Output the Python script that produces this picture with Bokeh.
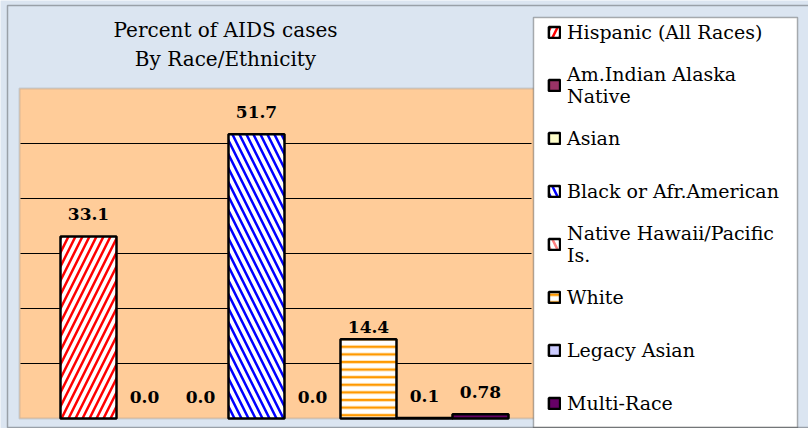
from bokeh.plotting import figure
from bokeh.models import Range1d, Legend, LegendItem, Label, Grid, BoxAnnotation
from bokeh.embed import file_html
from bokeh.resources import INLINE
from bokeh.core.properties import value

# ---- data ----
categories = ["Hispanic (All Races)", "Am.Indian Alaska\nNative", "Asian",
              "Black or Afr.American", "Native Hawaii/Pacific\nIs.", "White",
              "Legacy Asian", "Multi-Race"]
percent = [33.1, 0.0, 0.0, 51.7, 0.0, 14.4, 0.1, 0.78]
value_labels = ["33.1", "0.0", "0.0", "51.7", "0.0", "14.4", "0.1", "0.78"]
grid_ticks = [10, 20, 30, 40, 50]
y_max = 60

# ---- styles ----
fills = ["white", "#993366", "#FFFFCC", "white", "white", "white", "#CCCCFF", "#660066"]
hatches = ["/", " ", " ", "\\", "\\", "-", " ", " "]
hatch_colors = ["#FF0000", "black", "black", "#0000FF", "#FF8080", "#FF9900", "black", "black"]
hatch_scales = [14, 8, 8, 14, 14, 7.6, 8, 8]
label_lift = [22, 22, 22, 22, 22, 12, 22, 22]   # px between bar top and its label
SERIF = "DejaVu Serif"

# ---- layout (pixels) ----
W, H = 808, 428
SLOT, X0 = 56, 88      # px per category, px of first category centre
BASE, PPU = 418, 5.5   # px of value 0, px per percent


def dx(px):
    return (px - X0) / SLOT


def dy(py):
    return (BASE - py) / PPU


p = figure(width=W, height=H, output_backend="svg", toolbar_location=None,
           x_range=Range1d(dx(0), dx(W)), y_range=Range1d(dy(H), dy(0)),
           x_axis_location=None, y_axis_location=None,
           min_border=0, border_fill_color="#dbe5f1", background_fill_color="#dbe5f1",
           outline_line_color=None)
p.center = [c for c in p.center if not isinstance(c, Grid)]

# plot area
p.add_layout(BoxAnnotation(left=dx(19), right=dx(540), bottom=0, top=y_max,
                           fill_color="#FFCC99", fill_alpha=1.0,
                           line_color="#8c8c8c", line_width=2, level="underlay"))
# gridlines
p.segment(x0=dx(20), x1=dx(531), y0=grid_ticks, y1=grid_ticks,
          line_color="black", line_width=1)

items = []
for i, (cat, v) in enumerate(zip(categories, percent)):
    r = p.vbar(x=[i], top=[v], width=1.0, bottom=0,
               fill_color=fills[i], hatch_pattern=hatches[i], hatch_color=hatch_colors[i],
               hatch_scale=hatch_scales[i], hatch_weight=2.5,
               line_color="black", line_width=2.5)
    r.visible = v > 0
    items.append(LegendItem(label=cat, renderers=[r]))

p.text(x=list(range(len(percent))), y=percent, text=value_labels,
       text_align="center", text_baseline="alphabetic",
       y_offset=[-d for d in label_lift],
       text_font=value(SERIF), text_font_style="bold", text_font_size="17px",
       text_color="black")

# title
p.add_layout(Label(x=dx(225), y=dy(29), text="Percent of AIDS cases",
                   text_align="center", text_baseline="alphabetic",
                   text_font=SERIF, text_font_size="20px", text_color="black"))
p.add_layout(Label(x=dx(225), y=dy(58), text="By Race/Ethnicity",
                   text_align="center", text_baseline="alphabetic",
                   text_font=SERIF, text_font_size="20px", text_color="black"))

# legend box
p.add_layout(BoxAnnotation(left=dx(533), right=dx(797), top=dy(17), bottom=dy(427),
                           fill_color="white", fill_alpha=1.0,
                           line_color="black", line_width=1.5))

item_h = 53
legend_h = len(items) * item_h
legend = Legend(items=items, location=(547, H - 5.5 - legend_h),
                padding=0, spacing=0, margin=0,
                glyph_width=14, glyph_height=14, label_standoff=6,
                label_height=item_h,
                label_text_font=SERIF, label_text_font_size="19px",
                label_text_line_height=1.7,
                label_text_color="black",
                border_line_color=None, background_fill_alpha=0.0)
p.add_layout(legend)

# outer frame
p.add_layout(BoxAnnotation(left=dx(7), right=dx(W + 20), top=dy(5), bottom=dy(427),
                           fill_color=None, line_color="black", line_width=1.5,
                           level="overlay"))

open("out.html", "w").write(file_html(p, INLINE))
